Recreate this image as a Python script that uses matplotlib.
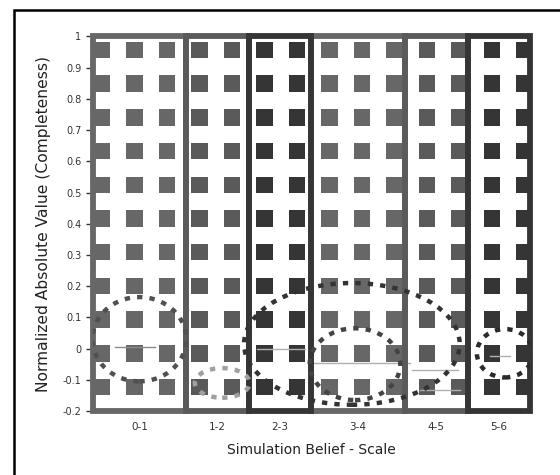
import numpy as np
import matplotlib
matplotlib.use("Agg")
import matplotlib.pyplot as plt
from matplotlib.patches import Rectangle, Ellipse

# ---- data ----
categories = ["0-1", "1-2", "2-3", "3-4", "4-5", "5-6"]
section_widths = [3, 2, 2, 3, 2, 2]
section_colors = ["#676767", "#5a5a5a", "#353535", "#676767", "#5a5a5a", "#353535"]

# dotted distribution outlines (centre x, centre y, width, height)
ell_x = [1.5, 8.3, 8.4, 13.2, 4.15]
ell_y = [0.03, 0.015, -0.05, -0.015, -0.11]
ell_w = [3.0, 6.9, 2.9, 1.8, 1.75]
ell_h = [0.27, 0.39, 0.23, 0.155, 0.095]
ell_c = ["#505050", "#333333", "#444444", "#2a2a2a", "#a0a0a0"]

# thin median lines
med_y = [0.005, -0.001, -0.046, -0.069, -0.133, -0.024]
med_x0 = [0.72, 5.26, 7.06, 10.22, 10.48, 12.72]
med_x1 = [2.0, 6.8, 10.16, 11.7, 11.76, 13.36]
med_c = ["#8a8a8a", "#b0b0b0", "#b0b0b0", "#b0b0b0", "#b0b0b0", "#b0b0b0"]

y_ticks = [-0.2, -0.1, 0.0, 0.1, 0.2, 0.3, 0.4, 0.5, 0.6, 0.7, 0.8, 0.9, 1.0]

# ---- figure ----
fig = plt.figure(figsize=(5.6, 4.75), dpi=100)
ax = fig.add_axes([92.5 / 560, (475 - 411) / 475, 437.5 / 560, 374.5 / 475])
total = sum(section_widths)
ax.set_xlim(0, total)
ax.set_ylim(-0.2, 1.0)

edges = np.concatenate([[0], np.cumsum(section_widths)])

# background square pattern (decorative, like a hatch)
cols = 14
rows = 11
fx = 0.0217 + 0.0743 * np.arange(cols)
fy = 0.964 - 0.090 * np.arange(rows)
FX, FY = np.meshgrid(fx, fy)
xd = FX.ravel() * total
colors = [section_colors[min(np.searchsorted(edges, v, side="right") - 1, len(categories) - 1)] for v in xd]
ax.scatter(FX.ravel(), FY.ravel(), marker="s", s=140, c=colors, linewidths=0,
           transform=ax.transAxes, zorder=1, clip_on=True)

# section frames (darker on top)
order = sorted(range(len(categories)), key=lambda i: -int(section_colors[i][1:3], 16))
for z, i in enumerate(order):
    ax.add_patch(Rectangle((edges[i], -0.2), section_widths[i], 1.2, fill=False,
                           edgecolor=section_colors[i], linewidth=4.2, zorder=3 + z * 0.01,
                           clip_on=False, joinstyle="miter"))

# median lines
for y, a, b, c in zip(med_y, med_x0, med_x1, med_c):
    ax.plot([a, b], [y, y], color=c, lw=1.0, zorder=2)

# dotted outlines
for x, y, w, h, c in zip(ell_x, ell_y, ell_w, ell_h, ell_c):
    ax.add_patch(Ellipse((x, y), w, h, fill=False, edgecolor=c, linewidth=3.2,
                         linestyle=(0, (1.2, 1.6)), zorder=4))

centers = edges[:-1] + np.array(section_widths) / 2
ax.set_xticks(centers)
ax.set_xticklabels(categories, fontsize=7.5, color="#333333")
ax.tick_params(axis="x", length=0, pad=8)
ax.set_yticks(y_ticks)
ax.set_yticklabels([f"{v:g}" for v in y_ticks], fontsize=7, color="#333333")
ax.tick_params(axis="y", length=5, width=1, color="#333333", pad=3)
for s in ax.spines.values():
    s.set_visible(False)

ax.set_xlabel("Simulation Belief - Scale", fontsize=10, color="#222222", labelpad=8)
ax.set_ylabel("Normalized Absolute Value (Completeness)", fontsize=11.2, color="#222222", labelpad=8)

# figure border
fig.patches.append(Rectangle((14 / 560, -0.1), 1.2, 1 - 10 / 475 + 0.1, transform=fig.transFigure,
                             fill=False, edgecolor="black", linewidth=1.8))

fig.savefig("out.png", dpi=100)
